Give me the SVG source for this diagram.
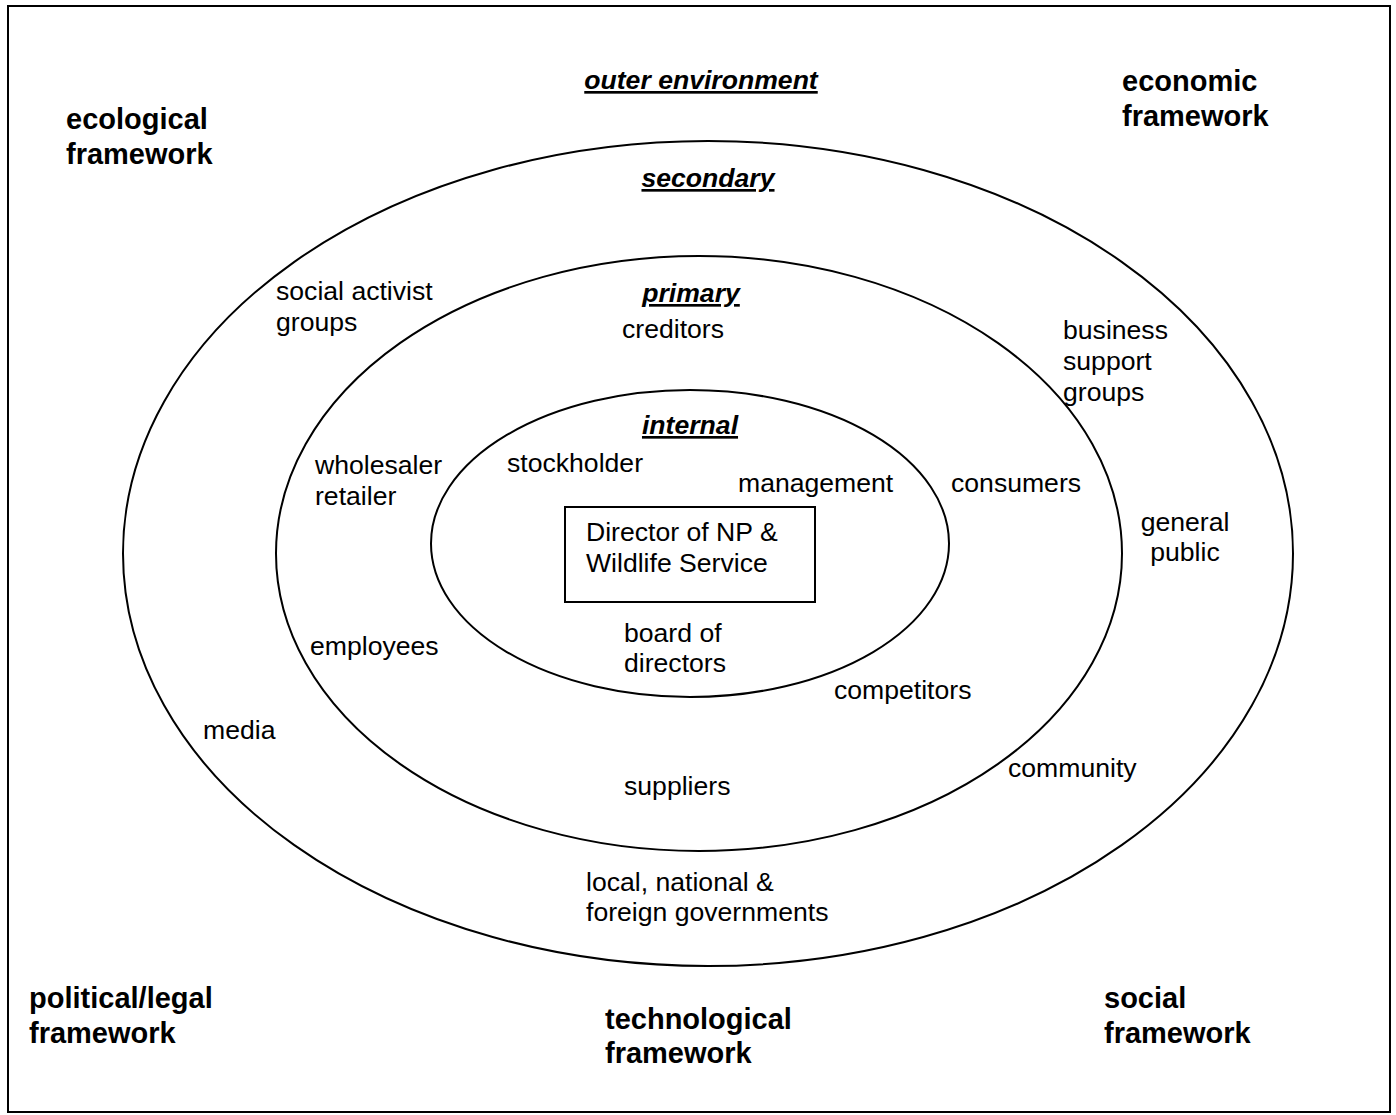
<svg xmlns="http://www.w3.org/2000/svg" width="1396" height="1115" viewBox="0 0 1396 1115">
  <style>
    .ring { fill: none; stroke: #000; stroke-width: 2; }
    .box { fill: #fff; stroke: #000; stroke-width: 2; }
    text { font-family: "Liberation Sans", Arial, sans-serif; fill: #000; }
    .lbl { font-size: 26.6px; }
    .frame { font-size: 29px; font-weight: bold; }
    .zone { font-size: 26.6px; font-weight: bold; font-style: italic; text-decoration: underline; text-anchor: middle; }
  </style>

  <!-- page border -->
  <rect x="8" y="6" width="1382" height="1106" fill="#fff" stroke="#000" stroke-width="2"/>

  <!-- concentric stakeholder rings -->
  <g id="rings">
    <ellipse id="ring-secondary" class="ring" cx="708" cy="553.5" rx="585" ry="412.5"/>
    <ellipse id="ring-primary" class="ring" cx="699" cy="553.5" rx="423" ry="297.5"/>
    <ellipse id="ring-internal" class="ring" cx="690" cy="543.5" rx="259" ry="153.5"/>
  </g>

  <!-- environment frameworks in the corners -->
  <g id="ecological">
    <text class="frame" x="66" y="129">ecological</text>
    <text class="frame" x="66" y="164">framework</text>
  </g>
  <g id="economic">
    <text class="frame" x="1122" y="91">economic</text>
    <text class="frame" x="1122" y="126">framework</text>
  </g>
  <g id="political">
    <text class="frame" x="29" y="1008">political/legal</text>
    <text class="frame" x="29" y="1043">framework</text>
  </g>
  <g id="technological">
    <text class="frame" x="605" y="1029">technological</text>
    <text class="frame" x="605" y="1063">framework</text>
  </g>
  <g id="social">
    <text class="frame" x="1104" y="1008">social</text>
    <text class="frame" x="1104" y="1043">framework</text>
  </g>

  <!-- zone headings -->
  <g id="zone-outer"><text class="zone" x="701" y="89">outer environment</text></g>
  <g id="zone-secondary"><text class="zone" x="708" y="187">secondary</text></g>
  <g id="zone-primary"><text class="zone" x="691" y="302">primary</text></g>
  <g id="zone-internal"><text class="zone" x="690" y="434">internal</text></g>

  <!-- secondary stakeholders -->
  <g id="activists">
    <text class="lbl" x="276" y="300">social activist</text>
    <text class="lbl" x="276" y="331">groups</text>
  </g>
  <g id="business-support">
    <text class="lbl" x="1063" y="339">business</text>
    <text class="lbl" x="1063" y="370">support</text>
    <text class="lbl" x="1063" y="401">groups</text>
  </g>
  <g id="general-public">
    <text class="lbl" x="1185" y="531" text-anchor="middle">general</text>
    <text class="lbl" x="1185" y="561" text-anchor="middle">public</text>
  </g>
  <g id="media"><text class="lbl" x="203" y="739">media</text></g>
  <g id="community"><text class="lbl" x="1008" y="777">community</text></g>
  <g id="governments">
    <text class="lbl" x="586" y="891">local, national &amp;</text>
    <text class="lbl" x="586" y="921">foreign governments</text>
  </g>

  <!-- primary stakeholders -->
  <g id="creditors"><text class="lbl" x="622" y="338">creditors</text></g>
  <g id="wholesaler">
    <text class="lbl" x="315" y="474">wholesaler</text>
    <text class="lbl" x="315" y="505">retailer</text>
  </g>
  <g id="consumers"><text class="lbl" x="951" y="492">consumers</text></g>
  <g id="employees"><text class="lbl" x="310" y="655">employees</text></g>
  <g id="competitors"><text class="lbl" x="834" y="699">competitors</text></g>
  <g id="suppliers"><text class="lbl" x="624" y="795">suppliers</text></g>

  <!-- internal stakeholders -->
  <g id="stockholder"><text class="lbl" x="507" y="472">stockholder</text></g>
  <g id="management"><text class="lbl" x="738" y="492">management</text></g>
  <g id="board">
    <text class="lbl" x="624" y="642">board of</text>
    <text class="lbl" x="624" y="672">directors</text>
  </g>

  <!-- focal organisation -->
  <g id="director">
    <rect class="box" x="565" y="507" width="250" height="95"/>
    <text class="lbl" x="586" y="541">Director of NP &amp;</text>
    <text class="lbl" x="586" y="572">Wildlife Service</text>
  </g>
</svg>
